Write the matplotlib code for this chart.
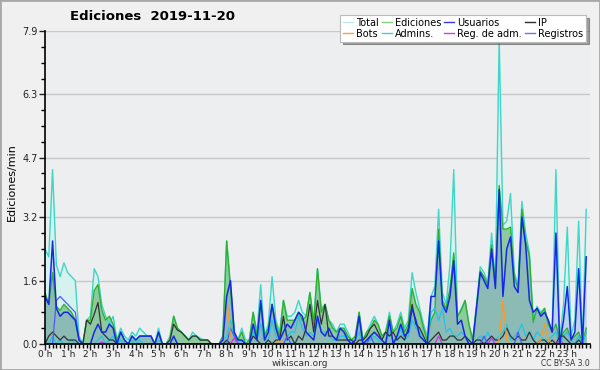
import numpy as np
import matplotlib
matplotlib.use("Agg")
from matplotlib import pyplot as plt
from matplotlib.lines import Line2D
from matplotlib.ticker import MultipleLocator, FixedLocator

# edits per minute, one value every 10 minutes (6 per hour)
total = [2.4, 2.2, 4.4, 2.0, 1.7, 2.05,  1.8, 1.7, 1.6, 0.2, 0.0, 0.6,
         0.7, 1.9, 1.7, 1.0, 0.7, 0.5,  0.7, 0.1, 0.4, 0.2, 0.1, 0.3,
         0.2, 0.4, 0.3, 0.2, 0.2, 0.0,  0.4, 0.0, 0.0, 0.2, 0.7, 0.4,
         0.3, 0.2, 0.1, 0.3, 0.2, 0.15, 0.1, 0.1, 0.0, 0.0, 0.0, 0.2,
         2.6, 1.5, 0.3, 0.1, 0.4, 0.1,  0.1, 0.8, 0.3, 1.5, 0.2, 0.5,
         1.7, 0.6, 0.3, 1.1, 0.7, 0.7,  0.8, 1.1, 0.8, 0.7, 1.3, 0.6,
         1.9, 0.9, 1.0, 0.6, 0.5, 0.3,  0.5, 0.5, 0.3, 0.1, 0.2, 0.8,
         0.1, 0.3, 0.5, 0.7, 0.5, 0.2,  0.3, 0.8, 0.3, 0.5, 0.8, 0.4,
         0.6, 1.8, 1.3, 0.9, 0.5, 0.2,  1.2, 1.45, 3.4, 1.3, 1.0, 2.0,
         4.4, 0.7, 0.9, 1.1, 0.5, 0.1,  1.0, 1.95, 1.8, 1.55, 2.8, 1.6,
         7.7, 3.0, 3.1, 3.8, 1.8, 1.5,  3.6, 2.8, 2.3, 0.6, 0.95, 0.8,
         0.9, 0.5, 0.35, 4.4, 0.1, 1.0, 2.95, 0.2, 0.6, 3.1, 0.0, 3.4]

ediciones = [1.3, 1.0, 1.8, 0.95, 0.85, 1.0,  0.9, 0.8, 0.6, 0.1, 0.0, 0.6,
             0.6, 1.35, 1.5, 0.85, 0.6, 0.7,  0.5, 0.1, 0.3, 0.1, 0.0, 0.2,
             0.1, 0.2, 0.2, 0.2, 0.2, 0.0,  0.3, 0.0, 0.0, 0.1, 0.7, 0.4,
             0.3, 0.2, 0.1, 0.2, 0.2, 0.1,  0.1, 0.1, 0.0, 0.0, 0.0, 0.2,
             2.6, 1.4, 0.2, 0.1, 0.3, 0.0,  0.1, 0.8, 0.2, 1.0, 0.2, 0.4,
             1.0, 0.5, 0.2, 1.1, 0.6, 0.6,  0.6, 0.8, 0.6, 0.7, 1.3, 0.5,
             1.9, 0.8, 1.0, 0.6, 0.4, 0.3,  0.4, 0.4, 0.2, 0.1, 0.2, 0.8,
             0.1, 0.3, 0.4, 0.6, 0.5, 0.2,  0.3, 0.7, 0.3, 0.4, 0.7, 0.3,
             0.5, 1.4, 1.0, 0.8, 0.4, 0.1,  0.6, 0.8, 2.9, 1.1, 0.9, 1.4,
             2.3, 0.7, 0.85, 1.1, 0.5, 0.1,  0.9, 1.85, 1.7, 1.5, 2.5, 1.5,
             4.0, 2.9, 2.9, 2.95, 1.7, 1.4,  3.4, 2.6, 2.2, 0.55, 0.9, 0.75,
             0.9, 0.5, 0.3, 0.5, 0.1, 0.3,  0.4, 0.1, 0.2, 0.3, 0.0, 0.4]

usuarios = [1.2, 1.0, 2.6, 0.9, 0.7, 0.8,  0.8, 0.7, 0.6, 0.1, 0.0, 0.0,
            0.0, 0.3, 0.5, 0.3, 0.3, 0.5,  0.4, 0.0, 0.3, 0.1, 0.0, 0.2,
            0.1, 0.2, 0.2, 0.2, 0.2, 0.0,  0.3, 0.0, 0.0, 0.0, 0.2, 0.0,
            0.0, 0.0, 0.0, 0.0, 0.0, 0.0,  0.0, 0.0, 0.0, 0.0, 0.0, 0.1,
            1.2, 1.6, 0.3, 0.1, 0.1, 0.0,  0.0, 0.5, 0.1, 1.1, 0.1, 0.3,
            1.0, 0.4, 0.1, 0.3, 0.5, 0.4,  0.6, 0.8, 0.7, 0.3, 0.2, 0.1,
            0.7, 0.3, 0.2, 0.4, 0.2, 0.1,  0.4, 0.3, 0.1, 0.0, 0.1, 0.7,
            0.0, 0.1, 0.2, 0.3, 0.2, 0.1,  0.0, 0.6, 0.0, 0.2, 0.5, 0.2,
            0.3, 0.9, 0.6, 0.2, 0.1, 0.0,  1.2, 1.2, 2.6, 1.0, 0.8, 1.2,
            2.1, 0.5, 0.6, 0.2, 0.0, 0.0,  0.9, 1.8, 1.6, 1.4, 2.4, 1.4,
            3.9, 1.2, 2.4, 2.7, 1.45, 1.3,  3.2, 2.5, 1.1, 0.8, 0.9, 0.7,
            0.8, 0.6, 0.3, 2.8, 0.0, 0.6,  1.45, 0.1, 0.3, 1.9, 0.0, 2.2]

ip = [0.0, 0.2, 0.3, 0.2, 0.1, 0.2,  0.1, 0.1, 0.1, 0.0, 0.0, 0.6,
      0.5, 0.75, 1.05, 0.3, 0.2, 0.1,  0.1, 0.0, 0.0, 0.0, 0.0, 0.0,
      0.0, 0.0, 0.0, 0.0, 0.0, 0.0,  0.0, 0.0, 0.0, 0.1, 0.5, 0.35,
      0.3, 0.2, 0.1, 0.2, 0.2, 0.1,  0.1, 0.1, 0.0, 0.0, 0.0, 0.0,
      0.1, 0.0, 0.0, 0.0, 0.0, 0.0,  0.0, 0.2, 0.1, 0.0, 0.0, 0.1,
      0.0, 0.1, 0.1, 0.7, 0.1, 0.2,  0.0, 0.2, 0.1, 0.4, 1.0, 0.3,
      1.1, 0.5, 1.0, 0.2, 0.2, 0.1,  0.1, 0.1, 0.1, 0.1, 0.0, 0.1,
      0.1, 0.2, 0.4, 0.5, 0.3, 0.1,  0.3, 0.2, 0.3, 0.1, 0.2, 0.1,
      0.4, 1.0, 0.5, 0.4, 0.2, 0.0,  0.1, 0.2, 0.3, 0.1, 0.1, 0.2,
      0.2, 0.1, 0.1, 0.2, 0.1, 0.0,  0.1, 0.1, 0.0, 0.1, 0.2, 0.1,
      0.1, 0.2, 0.4, 0.2, 0.1, 0.2,  0.1, 0.1, 0.3, 0.1, 0.0, 0.1,
      0.1, 0.0, 0.1, 0.0, 0.2, 0.2,  0.1, 0.0, 0.0, 0.1, 0.0, 0.0]

admins = [0.1, 0.0, 0.2, 0.0, 0.1, 0.0,  0.0, 0.1, 0.0, 0.0, 0.0, 0.0,
          0.0, 0.0, 0.1, 0.2, 0.0, 0.1,  0.2, 0.0, 0.1, 0.0, 0.0, 0.1,
          0.0, 0.1, 0.0, 0.0, 0.0, 0.0,  0.1, 0.0, 0.0, 0.0, 0.0, 0.0,
          0.0, 0.0, 0.0, 0.0, 0.0, 0.0,  0.0, 0.0, 0.0, 0.0, 0.0, 0.1,
          0.2, 0.6, 0.2, 0.0, 0.1, 0.0,  0.0, 0.3, 0.1, 0.5, 0.1, 0.1,
          0.6, 0.2, 0.1, 0.6, 0.2, 0.3,  0.3, 0.7, 0.4, 0.2, 0.3, 0.2,
          0.6, 0.3, 0.3, 0.2, 0.1, 0.1,  0.2, 0.2, 0.1, 0.0, 0.1, 0.3,
          0.0, 0.1, 0.1, 0.2, 0.1, 0.0,  0.0, 0.3, 0.1, 0.1, 0.4, 0.1,
          0.2, 0.6, 0.4, 0.3, 0.1, 0.0,  0.8, 0.9, 0.6, 0.9, 0.3, 0.4,
          0.2, 0.2, 0.3, 0.2, 0.1, 0.0,  0.1, 0.2, 0.1, 0.3, 0.1, 0.1,
          0.2, 0.3, 0.5, 0.1, 0.2, 0.3,  0.5, 0.2, 0.3, 0.1, 0.3, 0.2,
          0.1, 0.1, 0.2, 0.3, 0.0, 0.2,  0.3, 0.1, 0.0, 0.2, 0.0, 0.3]

# sparse series: {slot index: value}
bots = {47: 0.1, 48: 1.2, 49: 0.2, 62: 0.1, 120: 0.1, 121: 1.1, 122: 0.1, 131: 0.1, 132: 0.5, 133: 0.1}
reg_adm = {15: 0.05, 50: 0.15, 104: 0.2, 118: 0.15, 136: 0.1}
registros = {3: 1.1, 4: 1.2, 5: 1.1, 6: 1.0, 7: 0.9, 8: 0.8, 9: 0.1,
             49: 0.4, 50: 0.2, 64: 0.2, 86: 0.2, 116: 0.2, 125: 0.3}

hour_labels = ["%d h" % h for h in range(24)]
yticks = [0.0, 1.6, 3.2, 4.7, 6.3, 7.9]

n = len(total)
t = np.arange(n) / 6.0


def sparse(d):
    s = np.zeros(n)
    for k, v in d.items():
        s[k] = v
    return s


fig = plt.figure(figsize=(6, 3.7), dpi=100, facecolor="#f0f0f0")
ax = fig.add_axes([45/600, 26/370, 545/600, 313/370], facecolor="#eceef0")

ax.fill_between(t, total, color="#d6f2ee", lw=0)
ax.fill_between(t, ediciones, color="#7cc08a", alpha=0.8, lw=0)
ax.fill_between(t, usuarios, color="#8a9ee0", alpha=0.35, lw=0)

ax.plot(t, total, color="#3ed6c6", lw=1.0)
ax.plot(t, ediciones, color="#2fb02f", lw=1.0)
ax.plot(t, admins, color="#22c4e6", lw=0.9)
ax.plot(t, ip, color="#333333", lw=0.9)
ax.plot(t, sparse(registros), color="#4a5cff", lw=0.9)
ax.plot(t, sparse(bots), color="#ff9a20", lw=0.9)
ax.plot(t, sparse(reg_adm), color="#d030e0", lw=0.9)
ax.plot(t, usuarios, color="#1428e6", lw=1.1)

ax.set_xlim(0, 24)
ax.set_ylim(0, 7.9)
ax.set_xticks(range(24))
ax.set_xticklabels(hour_labels)
ax.xaxis.set_minor_locator(MultipleLocator(1/6))
ax.set_yticks(yticks)
ax.set_yticklabels(["%.1f" % v for v in yticks])
minor_y = []
for a, b in zip(yticks[:-1], yticks[1:]):
    minor_y += [a + (b - a) * k / 4 for k in (1, 2, 3)]
ax.yaxis.set_minor_locator(FixedLocator(minor_y))

ax.tick_params(axis="y", which="major", labelsize=7, length=4, width=1, pad=1, colors="#222222")
ax.tick_params(axis="x", which="major", labelsize=6.5, length=4, width=1, pad=0, colors="#222222")
ax.tick_params(axis="both", which="minor", length=3, width=1)
ax.grid(axis="y", color="#c8c8c8", lw=1)
ax.set_axisbelow(True)
for s in ["top", "right"]:
    ax.spines[s].set_visible(False)
ax.spines["left"].set_linewidth(1.2)
ax.spines["bottom"].set_linewidth(1.2)

fig.text(12/600, 0.5 + 3/370, "Ediciones/min", rotation=90, va="center", ha="center", fontsize=8)
fig.text(153/600, 1 - 17/370, "Ediciones  2019-11-20", ha="center", va="center",
         fontsize=9.5, fontweight="bold")
fig.text(300/600, 7/370, "wikiscan.org", ha="center", va="center", fontsize=6.5, color="#333333")
fig.text(590/600, 7/370, "CC BY-SA 3.0", ha="right", va="center", fontsize=5.5, color="#333333")

handles = [
    Line2D([], [], color="#b8ecec", lw=1), Line2D([], [], color="#ffa030", lw=1),
    Line2D([], [], color="#80d080", lw=1), Line2D([], [], color="#40d0e0", lw=1),
    Line2D([], [], color="#3838e0", lw=1), Line2D([], [], color="#d040e0", lw=1),
    Line2D([], [], color="#303030", lw=1), Line2D([], [], color="#7070f0", lw=1),
]
names = ["Total", "Bots", "Ediciones", "Admins.", "Usuarios", "Reg. de adm.", "IP", "Registros"]
leg = fig.legend(handles, names, ncol=4, loc="upper right", bbox_to_anchor=(591/600, 1 - 10/370),
                 fontsize=7, handlelength=1.0, handletextpad=0.35, columnspacing=0.3,
                 labelspacing=0.1, borderpad=0.3, fancybox=False, shadow=True,
                 framealpha=1, edgecolor="#bbbbbb")
leg.get_frame().set_linewidth(0.8)

fig.patches.append(plt.Rectangle((0, 0), 1, 1, transform=fig.transFigure, fill=False,
                                 edgecolor="#a8a8a8", lw=2))
fig.savefig("out.png", dpi=100, facecolor=fig.get_facecolor())
